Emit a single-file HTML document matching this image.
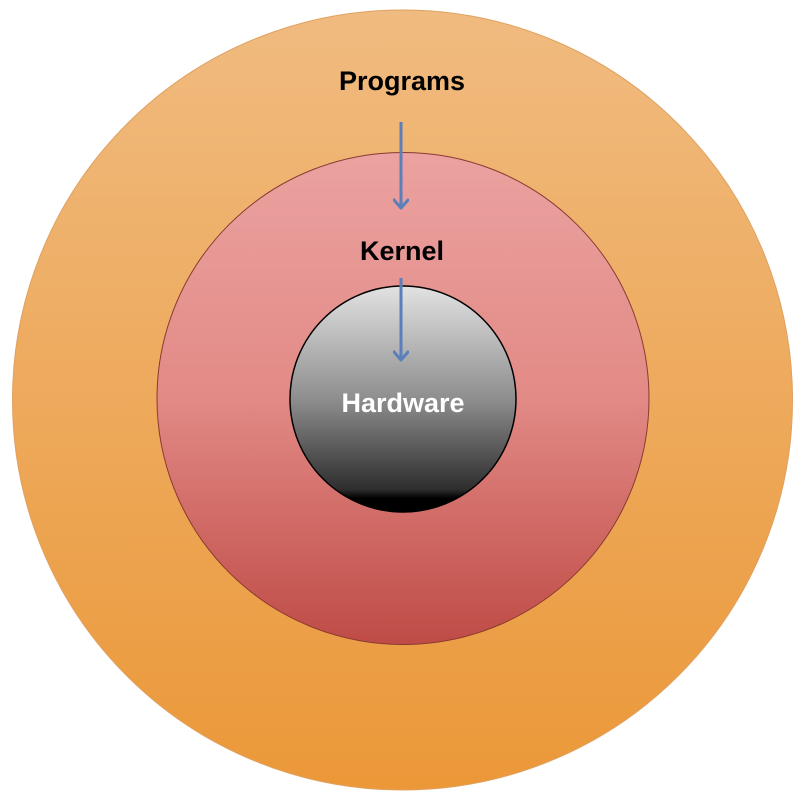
<!DOCTYPE html>
<html><head><meta charset="utf-8"><style>body{margin:0;background:#fff}svg{display:block}</style></head><body>
<svg width="805" height="805" viewBox="0 0 805 805" xmlns="http://www.w3.org/2000/svg">
<defs>
<linearGradient id="o" x1="0" y1="0" x2="0" y2="1"><stop offset="0" stop-color="#f0bb80"/><stop offset="1" stop-color="#eb9838"/></linearGradient>
<linearGradient id="k" x1="0" y1="0" x2="0" y2="1"><stop offset="0" stop-color="#eba2a0"/><stop offset="0.5" stop-color="#e28a86"/><stop offset="1" stop-color="#bf4b46"/></linearGradient>
<linearGradient id="h" x1="0" y1="0" x2="0" y2="1"><stop offset="0" stop-color="#e2e2e2"/><stop offset="0.5" stop-color="#8e8e8e"/><stop offset="0.9" stop-color="#2e2e2e"/><stop offset="0.94" stop-color="#000"/><stop offset="1" stop-color="#000"/></linearGradient>
<marker id="a" markerWidth="16" markerHeight="16" refX="8" refY="12" orient="0" markerUnits="userSpaceOnUse"><path d="M1,4 L8,12 L15,4" fill="none" stroke="#5b7fb9" stroke-width="3" stroke-linecap="round" stroke-linejoin="round"/></marker>
</defs>
<circle cx="402.5" cy="400" r="390" fill="url(#o)" stroke="#e0a060" stroke-width="1"/>
<circle cx="403" cy="398.5" r="246" fill="url(#k)" stroke="#8a3a30" stroke-width="1"/>
<circle cx="403" cy="399" r="113" fill="url(#h)" stroke="#000" stroke-width="1.5"/>
<line x1="401" y1="122" x2="401" y2="208" stroke="#5b7fb9" stroke-width="3" marker-end="url(#a)"/>
<line x1="401" y1="278" x2="401" y2="360" stroke="#5b7fb9" stroke-width="3" marker-end="url(#a)"/>
<g font-family="Liberation Sans, sans-serif" font-weight="bold" font-size="27" text-anchor="middle">
<text x="402" y="90" fill="#000">Programs</text>
<text x="402" y="260" fill="#000">Kernel</text>
<text x="403" y="412" fill="#fff">Hardware</text>
</g>
</svg>
</body></html>
